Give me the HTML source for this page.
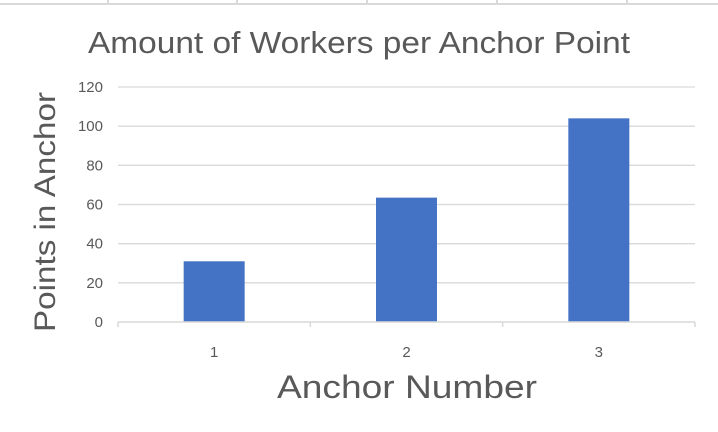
<!DOCTYPE html>
<html><head><meta charset="utf-8"><style>
body{margin:0;background:#fff;}
svg{display:block;font-family:"Liberation Sans",sans-serif;}
</style></head><body>
<svg width="718" height="432">
<g stroke="#d9d9d9" stroke-width="2">
<line x1="0" y1="4" x2="718" y2="4"/>
<line x1="108" y1="0" x2="108" y2="4"/><line x1="237" y1="0" x2="237" y2="4"/><line x1="367" y1="0" x2="367" y2="4"/><line x1="497" y1="0" x2="497" y2="4"/><line x1="627" y1="0" x2="627" y2="4"/>
</g>
<text x="88" y="53" textLength="542" lengthAdjust="spacingAndGlyphs" font-size="31" fill="#595959">Amount of Workers per Anchor Point</text>
<text transform="translate(55,332) rotate(-90)" textLength="240" lengthAdjust="spacingAndGlyphs" font-size="30" fill="#595959">Points in Anchor</text>
<text x="277" y="398" textLength="260" lengthAdjust="spacingAndGlyphs" font-size="32" fill="#595959">Anchor Number</text>
<g id="grid"></g><g id="bars"></g><g id="axes"></g>
</svg>
<script>
const categories=["1","2","3"];
const values=[31,63.5,104];
const yTicks=[0,20,40,60,80,100,120];
const x0=118,x1=695,yb=322,yt=87,ymax=120;
const y=v=>yb-(v/ymax)*(yb-yt);
const band=(x1-x0)/categories.length;
const cx=i=>x0+band*(i+0.5);
const ns="http://www.w3.org/2000/svg";
function mk(t,a,p){const e=document.createElementNS(ns,t);for(const k in a)e.setAttribute(k,a[k]);p.appendChild(e);return e;}
const g=document.getElementById('grid'),b=document.getElementById('bars'),ax=document.getElementById('axes');
yTicks.forEach(v=>{
 if(v>0){const l=mk('line',{x1:x0,x2:x1,y1:y(v),y2:y(v),stroke:'#d9d9d9','stroke-width':1.3},g);
 
 }
 const t=mk('text',{x:103,y:y(v)+5,'text-anchor':'end','font-size':15,fill:'#595959'},ax);t.textContent=v;
 
 
});
const al=mk('line',{x1:x0,x2:x1,y1:yb,y2:yb,stroke:'#d9d9d9','stroke-width':1.5},ax);


for(let i=0;i<=categories.length;i++){const tk=mk('line',{x1:x0+band*i,x2:x0+band*i,y1:yb,y2:yb+5,stroke:'#d9d9d9','stroke-width':1.5},ax);
 
 }
categories.forEach((c,i)=>{
 const r=mk('rect',{x:cx(i)-30.5,y:y(values[i]),width:61,height:yb-y(values[i]),fill:'#4472c4'},b);
 
 
 const t=mk('text',{x:cx(i),y:357,'text-anchor':'middle','font-size':15,fill:'#595959'},ax);t.textContent=c;
 
 
});
</script>
</body></html>
